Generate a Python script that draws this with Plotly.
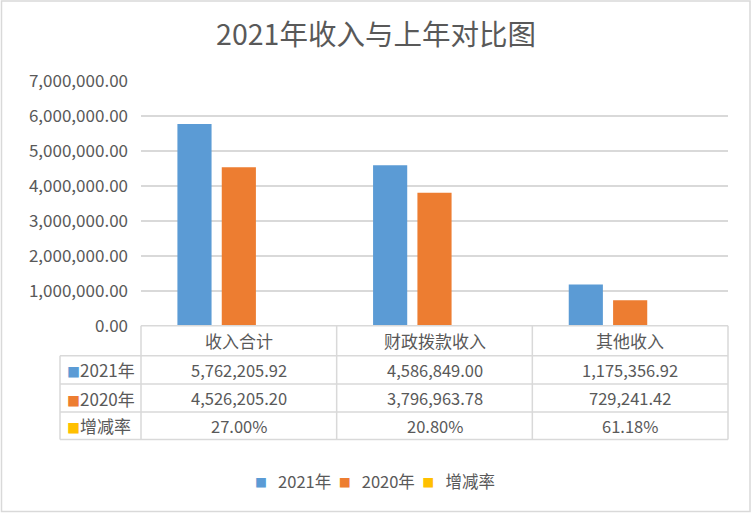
import plotly.graph_objects as go

categories = ["收入合计", "财政拨款收入", "其他收入"]
series_names = ["2021年", "2020年", "增减率"]
values_2021 = [5762205.92, 4586849.00, 1175356.92]
values_2020 = [4526205.20, 3796963.78, 729241.42]
rate = [0.2700, 0.2080, 0.6118]
colors = ["#5B9BD5", "#ED7D31", "#FFC000"]
yticks = [0, 1000000, 2000000, 3000000, 4000000, 5000000, 6000000, 7000000]

W, H = 752, 513
FONT = "Noto Sans CJK SC"
TXT = "#595959"
GRID = "#D9D9D9"

def px(x):
    return x / W

def py(y):
    return 1 - y / H

fig = go.Figure()
for name, vals, col in zip(series_names, [values_2021, values_2020, rate], colors):
    fig.add_trace(go.Bar(x=categories, y=vals, name=name, marker_color=col,
                         marker_line_width=0))

X0, X1 = 141, 728
Y_TOP, Y_ZERO = 80.7, 325.7
ROWS = [325.7, 355.7, 384, 412, 439.5]
LEFT = 60

shapes = []
def line(x0, y0, x1, y1):
    shapes.append(dict(type="line", xref="paper", yref="paper",
                       x0=px(x0), y0=py(y0), x1=px(x1), y1=py(y1),
                       line=dict(color=GRID, width=1.5)))

line(X0, ROWS[0], X1, ROWS[0])
for r in ROWS[1:]:
    line(LEFT, r, X1, r)
line(LEFT, ROWS[1], LEFT, ROWS[-1])
for i in range(len(categories) + 1):
    xx = X0 + (X1 - X0) * i / len(categories)
    line(xx, ROWS[0], xx, ROWS[-1])
shapes.append(dict(type="rect", xref="paper", yref="paper",
                   x0=px(1.5), y0=py(511.5), x1=px(750), y1=py(1),
                   line=dict(color=GRID, width=1.5)))

annotations = []
def centers(i):
    return (ROWS[i] + ROWS[i + 1]) / 2

for c in categories:
    annotations.append(dict(x=c, xref="x", y=py(centers(0)), yref="paper",
                            text=c, showarrow=False, yanchor="middle",
                            font=dict(family=FONT, size=17, color=TXT)))

row_texts = [
    ["{:,.2f}".format(v) for v in values_2021],
    ["{:,.2f}".format(v) for v in values_2020],
    ["{:.2f}%".format(v * 100) for v in rate],
]
for ri, (name, col, texts) in enumerate(zip(series_names, colors, row_texts)):
    yy = py(centers(ri + 1))
    annotations.append(dict(x=px(LEFT + 5), xref="paper", y=yy, yref="paper",
                            xanchor="left", yanchor="middle", showarrow=False,
                            text="<span style='color:%s;font-size:13px'>■</span>%s" % (col, name),
                            font=dict(family=FONT, size=17, color=TXT)))
    for c, t in zip(categories, texts):
        annotations.append(dict(x=c, xref="x", y=yy, yref="paper", text=t,
                                showarrow=False, yanchor="middle",
                                font=dict(family=FONT, size=16.5, color=TXT)))

legend_text = "&nbsp;&nbsp;".join(
    "<span style='color:%s;font-size:12px'>■</span>&nbsp;&nbsp;&nbsp;%s" % (c, n)
    for n, c in zip(series_names, colors))
annotations.append(dict(x=px(375), xref="paper", y=py(481), yref="paper",
                        xanchor="center", yanchor="middle", showarrow=False,
                        text=legend_text,
                        font=dict(family=FONT, size=16.5, color=TXT)))

fig.update_layout(
    width=W, height=H, autosize=False,
    margin=dict(l=0, r=0, t=0, b=0, pad=0),
    paper_bgcolor="white", plot_bgcolor="white",
    title=dict(text="2021年收入与上年对比图", x=0.5, xanchor="center",
               y=py(35), yanchor="middle", automargin=False,
               font=dict(family=FONT, size=28.5, color=TXT)),
    barmode="group", bargap=0.32, bargroupgap=0.23,
    xaxis=dict(domain=[px(X0), px(X1)], showticklabels=False, showgrid=False,
               showline=False, zeroline=False, range=[-0.5, 2.5],
               automargin=False),
    yaxis=dict(domain=[py(Y_ZERO), py(Y_TOP)], range=[0, 7000000],
               tickvals=yticks, tickformat=",.2f", showgrid=True,
               gridcolor=GRID, gridwidth=1.5, zeroline=False, showline=False,
               ticks="", ticklabelstandoff=12, automargin=False,
               tickfont=dict(family=FONT, size=17, color=TXT)),
    showlegend=False,
    shapes=shapes, annotations=annotations,
)

fig.write_html("out.html", config={"displayModeBar": False},
               post_script="document.body.style.margin='0';")
